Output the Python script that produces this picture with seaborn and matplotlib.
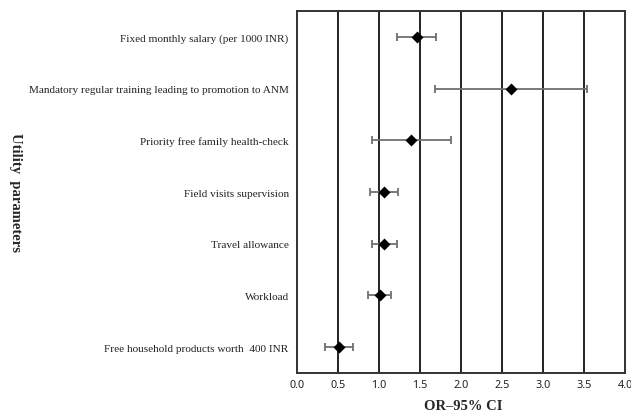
import numpy as np
import pandas as pd
import matplotlib
matplotlib.use("Agg")
import matplotlib.pyplot as plt
import seaborn as sns

# data
params = [
    "Fixed monthly salary (per 1000 INR)",
    "Mandatory regular training leading to promotion to ANM",
    "Priority free family health-check",
    "Field visits supervision",
    "Travel allowance",
    "Workload",
    "Free household products worth  400 INR",
]
odds_ratio = [1.46, 2.61, 1.39, 1.065, 1.065, 1.01, 0.51]
ci_low = [1.22, 1.68, 0.91, 0.89, 0.91, 0.87, 0.34]
ci_high = [1.70, 3.54, 1.88, 1.23, 1.22, 1.15, 0.68]
x_ticks = [0.0, 0.5, 1.0, 1.5, 2.0, 2.5, 3.0, 3.5, 4.0]

sns.set_theme(style="white")
plt.rcParams['font.family'] = ['Liberation Serif', 'DejaVu Serif']

df = pd.DataFrame({"param": params, "OR": odds_ratio, "lo": ci_low, "hi": ci_high})

fig = plt.figure(figsize=(6.31, 4.14), dpi=100)
ax = fig.add_axes([0.4707, 0.0966, 0.5198, 0.8744])

# vertical gridlines
for t in x_ticks[1:-1]:
    ax.axvline(t, color="#222222", lw=1.4, zorder=0)

# confidence intervals
ypos = np.arange(len(df))
ax.errorbar(df["OR"], ypos,
            xerr=[df["OR"] - df["lo"], df["hi"] - df["OR"]],
            fmt="none", ecolor="#707070", elinewidth=1.3, capsize=3, capthick=1.3, zorder=2)

sns.pointplot(data=df, x="OR", y="param", orient="h", linestyles="none",
              markers="D", color="black", errorbar=None, markersize=4, ax=ax, zorder=3)

ax.set_xlim(0, 4)
ax.set_ylim(len(df) - 0.5, -0.5)
ax.set_xticks(x_ticks)
ax.set_xticklabels([f"{t:.1f}" for t in x_ticks], fontsize=7.8, family="Noto Sans",
                   color="#222222")
ax.tick_params(axis="y", labelsize=8.1, length=0, pad=6, labelcolor="#222222")
ax.tick_params(axis="x", length=0, pad=4)

for s in ax.spines.values():
    s.set_color("#333333")
    s.set_linewidth(1.4)

ax.set_xlabel("")
ax.set_ylabel("")
fig.text(0.734, 0.017, "OR\u201395% CI", fontsize=10.5, fontweight="bold",
         ha="center", va="center")
fig.text(0.024, 0.536, "Utility  parameters", rotation=-90, fontsize=10.5,
         fontweight="bold", ha="center", va="center")

fig.savefig("out.png", dpi=100)
